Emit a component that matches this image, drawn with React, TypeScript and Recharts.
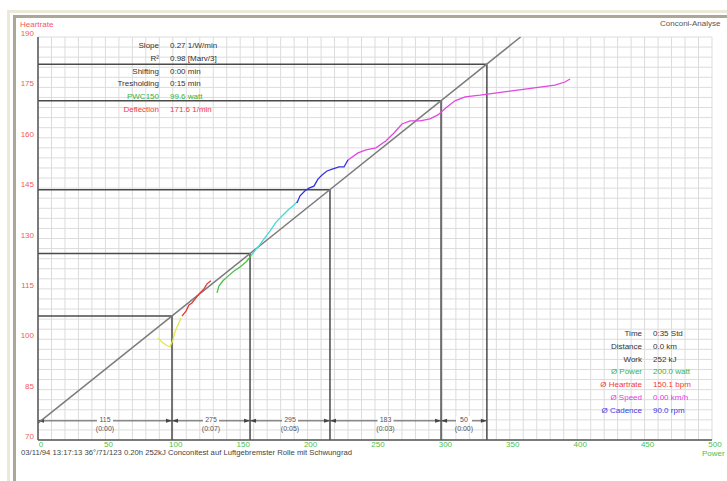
import {
  CartesianGrid,
  ComposedChart,
  Line,
  ReferenceLine,
  XAxis,
  YAxis,
} from "recharts";

// power (watt) on x, heartrate (1/min) on y
const xTicks = [0, 50, 100, 150, 200, 250, 300, 350, 400, 450, 500];
const yTicks = [70, 85, 100, 115, 130, 145, 160, 175, 190];
const xDomain = [0, 500];
const yDomain = [70, 190];

const yellowW = [89.0, 92.0, 95.0, 97.9, 100.1, 101.6, 103.9, 106.1];
const yellowHr = [100.4, 99.2, 98.3, 97.7, 99.8, 102.2, 104.3, 106.3];

const redW = [106.8, 109.8, 112.0, 114.2, 117.2, 120.2, 123.1, 125.4, 128.3];
const redHr = [106.9, 108.4, 110.2, 110.8, 112.3, 113.8, 115.0, 116.5, 117.4];

const greenW = [132.8, 134.3, 137.2, 141.0, 145.4, 149.9, 154.3, 158.0];
const greenHr = [113.8, 115.9, 117.4, 118.8, 120.3, 121.5, 123.0, 124.8];

const cyanW = [158.0, 160.2, 163.9, 167.7, 172.1, 176.6, 181.0, 185.5, 189.9, 192.9];
const cyanHr = [124.8, 126.0, 127.8, 129.9, 132.2, 134.9, 136.7, 138.5, 140.0, 141.2];

const blueW = [192.1, 194.4, 198.1, 201.0, 204.7, 207.7, 210.7, 214.4, 218.8, 223.3, 227.0, 230.0];
const blueHr = [140.6, 142.7, 144.2, 145.0, 145.6, 147.7, 148.9, 150.1, 150.7, 151.3, 151.3, 153.4];

const magentaW = [
  230.0, 237.4, 243.3, 250.7, 258.2, 264.1, 270.0, 276.0, 283.4, 290.8, 296.7,
  302.7, 309.3, 316.8, 327.9, 339.0, 350.1, 361.3, 372.4, 383.5, 390.9, 394.7,
];
const magentaHr = [
  153.4, 155.5, 156.4, 157.0, 159.1, 161.4, 164.1, 165.0, 165.0, 165.6, 166.8,
  168.9, 171.0, 172.2, 172.7, 173.3, 173.9, 174.5, 175.1, 175.7, 176.6, 177.5,
];

// regression line end points
const regW = [0, 358];
const regHr = [75, 190];

// step boundaries and their heartrates on the regression line
const stepW = [99.4, 157.3, 216.6, 299, 333];
const stepHr = [106.9, 125.5, 144.5, 171, 181.9];
const dimHr = 75.7;
const stepTop = ["115", "275", "295", "183", "50"];
const stepBottom = ["(0:00)", "(0:07)", "(0:05)", "(0:03)", "(0:00)"];

const topStatLabels = ["Slope", "R²", "Shifting", "Tresholding", "PWC150", "Deflection"];
const topStatValues = ["0.27 1/W/min", "0.98 [Marv/3]", "0:00 min", "0:15 min", "99.6 watt", "171.6 1/min"];
const topStatColors = ["#333", "#333", "#333", "#333", "#3cb043", "#f03c3c"];

const sumLabels = ["Time", "Distance", "Work", "Ø Power", "Ø Heartrate", "Ø Speed", "Ø Cadence"];
const sumValues = ["0:35 Std", "0.0 km", "252 kJ", "200.0 watt", "150.1 bpm", "0.00 km/h", "90.0 rpm"];
const sumColors = ["#333", "#333", "#333", "#3cb043", "#f03c3c", "#e040e0", "#3c3ce0"];

const footer =
  "03/11/94 13:17:13 36°/71/123 0.20h 252kJ Conconitest auf Luftgebremster Rolle mit Schwungrad";

const series = [
  { key: "yellow", color: "#e4e44a", w: yellowW, hr: yellowHr },
  { key: "red", color: "#e03838", w: redW, hr: redHr },
  { key: "green", color: "#48c048", w: greenW, hr: greenHr },
  { key: "cyan", color: "#40dcdc", w: cyanW, hr: cyanHr },
  { key: "blue", color: "#3434dc", w: blueW, hr: blueHr },
  { key: "magenta", color: "#e048e0", w: magentaW, hr: magentaHr },
];

const toPoints = (w: number[], hr: number[]) => w.map((v, i) => ({ w: v, hr: hr[i] }));

// minor grid every 10 watt and every 3 beats
const gridX = Array.from({ length: 51 }, (_, i) => i * 10);
const gridY = Array.from({ length: 41 }, (_, i) => 70 + i * 3);

const FONT = "'Liberation Sans', Arial, sans-serif";

const YTick = ({ y, payload }: any) => (
  <text x={34} y={y - 1} textAnchor="end" fontSize={8} fill="#f05a5a" fontFamily={FONT}>
    {payload.value}
  </text>
);

const XTick = ({ x, payload }: any) => (
  <text x={x + 3} y={447} textAnchor="middle" fontSize={8} fill="#4cc04c" fontFamily={FONT}>
    {payload.value}
  </text>
);

const DimShape = (i: number) => (props: any) => {
  const { x1, y1, x2 } = props;
  const mid = (x1 + x2) / 2;
  const a = 4;
  return (
    <g>
      <line x1={x1} y1={y1} x2={x2} y2={y1} stroke="#555" strokeWidth={1} />
      <polygon points={`${x1},${y1} ${x1 + a + 2},${y1 - 2} ${x1 + a + 2},${y1 + 2}`} fill="#444" />
      <polygon points={`${x2},${y1} ${x2 - a - 2},${y1 - 2} ${x2 - a - 2},${y1 + 2}`} fill="#444" />
      <rect x={mid - 8} y={y1 - 5} width={16} height={7} fill="#fff" />
      <text x={mid} y={y1 + 1} textAnchor="middle" fontSize={7} fill="#555" fontFamily={FONT}>
        {stepTop[i]}
      </text>
      <text x={mid} y={y1 + 10} textAnchor="middle" fontSize={7} fill="#555" fontFamily={FONT}>
        {stepBottom[i]}
      </text>
    </g>
  );
};

const vGen = ({ offset }: any) =>
  gridX.map((v) => offset.left + ((v - xDomain[0]) / (xDomain[1] - xDomain[0])) * offset.width);
const hGen = ({ offset }: any) =>
  gridY.map((v) => offset.top + offset.height - ((v - yDomain[0]) / (yDomain[1] - yDomain[0])) * offset.height);

export default function App() {
  const bounds = [0, ...stepW];
  return (
    <div style={{ position: "absolute", left: 0, top: 0, width: 727, height: 481, background: "#fff", overflow: "hidden" }}>
      <div style={{ position: "absolute", left: 7, top: 10, width: 740, height: 500, border: "3px solid #ece9d8" }} />
      <div style={{ position: "absolute", left: 13, top: 15, width: 740, height: 500, border: "3px solid #aca899" }} />
      <div style={{ position: "absolute", left: 0, top: 0 }}>
        <ComposedChart width={727} height={481} margin={{ top: 37, right: 15, bottom: 21, left: 8 }}>
          <CartesianGrid
            stroke="#dcdcdc"
            strokeWidth={1}
            verticalCoordinatesGenerator={vGen}
            horizontalCoordinatesGenerator={hGen}
          />
          <XAxis
            dataKey="w"
            type="number"
            domain={xDomain}
            ticks={xTicks}
            tick={<XTick />}
            tickLine={false}
            axisLine={{ stroke: "#555", strokeWidth: 1.5 }}
            height={20}
            allowDataOverflow
          />
          <YAxis
            dataKey="hr"
            type="number"
            domain={yDomain}
            ticks={yTicks}
            tick={<YTick />}
            tickLine={false}
            axisLine={{ stroke: "#555", strokeWidth: 1.5 }}
            width={30}
            allowDataOverflow
          />
          {stepW.map((w, i) => (
            <ReferenceLine
              key={`h${i}`}
              segment={[{ x: 0, y: stepHr[i] }, { x: w, y: stepHr[i] }]}
              stroke="#4a4a4a"
              strokeWidth={1.5}
            />
          ))}
          {stepW.map((w, i) => (
            <ReferenceLine
              key={`v${i}`}
              segment={[{ x: w, y: 70 }, { x: w, y: stepHr[i] }]}
              stroke="#4a4a4a"
              strokeWidth={1.5}
            />
          ))}
          {stepW.map((w, i) => (
            <ReferenceLine
              key={`d${i}`}
              segment={[{ x: bounds[i], y: dimHr }, { x: w, y: dimHr }]}
              shape={DimShape(i)}
            />
          ))}
          <ReferenceLine
            segment={[{ x: regW[0], y: regHr[0] }, { x: regW[1], y: regHr[1] }]}
            stroke="#7a7a7a"
            strokeWidth={1.5}
          />
          {series.map((s) => (
            <Line
              key={s.key}
              data={toPoints(s.w, s.hr)}
              dataKey="hr"
              type="linear"
              stroke={s.color}
              strokeWidth={1.3}
              dot={false}
              isAnimationActive={false}
            />
          ))}
        </ComposedChart>
      </div>
      <svg
        width={727}
        height={481}
        style={{ position: "absolute", left: 0, top: 0, pointerEvents: "none" }}
        fontFamily={FONT}
      >
        <text x={20} y={27} fontSize={8} fill="#f05a5a">Heartrate</text>
        <text x={660} y={26} fontSize={8} fill="#555">Conconi-Analyse</text>
        {topStatLabels.map((l, i) => (
          <g key={l}>
            <text x={159} y={48 + i * 12.8} textAnchor="end" fontSize={8} fill={topStatColors[i]}>{l}</text>
            <text x={170} y={48 + i * 12.8} fontSize={8} fill={topStatColors[i]}>{topStatValues[i]}</text>
          </g>
        ))}
        {sumLabels.map((l, i) => (
          <g key={l}>
            <text x={642} y={336 + i * 12.8} textAnchor="end" fontSize={8} fill={sumColors[i]}>{l}</text>
            <text x={653} y={336 + i * 12.8} fontSize={8} fill={sumColors[i]}>{sumValues[i]}</text>
          </g>
        ))}
        <text x={702} y={456} fontSize={8} fill="#4cc04c">Power</text>
        <text x={21} y={455} fontSize={7} fill="#444" textLength={331} lengthAdjust="spacingAndGlyphs">
          {footer}
        </text>
      </svg>
    </div>
  );
}
